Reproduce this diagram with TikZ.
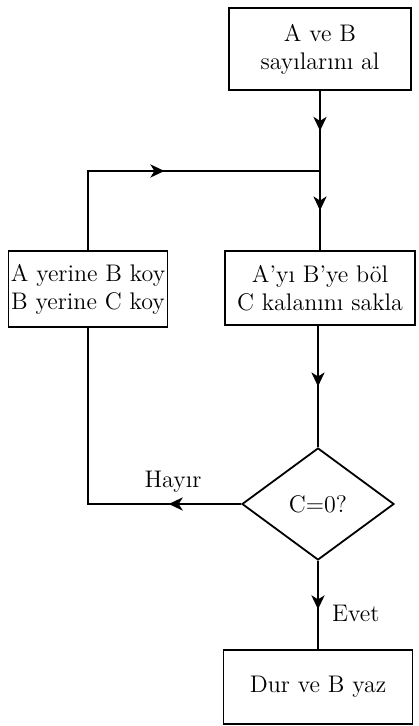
\documentclass[tikz,border=0pt]{standalone}
\usepackage{tikz}
\usetikzlibrary{arrows.meta,shapes.geometric,positioning,decorations.markings}

\begin{document}
\begin{tikzpicture}[x=0.5pt,y=-0.5pt]

\tikzset{kutu/.style={draw, line width=0.9pt, align=center, font=\large, inner sep=0pt}}
\tikzset{ok/.style={line width=1.4pt, decoration={markings, mark=at position #1 with {\arrow{Stealth[length=7pt,width=6.5pt,inset=2pt]}}}, postaction={decorate}}, ok/.default=0.5}

\useasboundingbox (0,0) rectangle (418,726);

% kutular
\node[kutu, minimum width=91pt, minimum height=41pt] (al) at (320,49) {A ve B\\sayılarını al};
\node[kutu, minimum width=95pt, minimum height=37pt] (bol) at (320,288) {A'yı B'ye böl\\C kalanını sakla};
\node[kutu, minimum width=79.5pt, minimum height=38pt] (koy) at (88,289) {A yerine B koy\\B yerine C koy};
\node[draw, diamond, line width=0.9pt, font=\large, inner sep=0pt, minimum width=76pt, minimum height=56pt] (sor) at (318,504) {C=0?};
\node[kutu, minimum width=94.5pt, minimum height=37pt] (dur) at (318,687) {Dur ve B yaz};

\coordinate (j1) at (bol.north |- 0,171);

% baglantilar
\draw[ok] (al.south -| j1) -- (j1);
\draw[ok] (j1) -- (bol.north -| j1);
\draw[ok] (koy.north) |- (j1);
\draw[ok] (bol.south -| sor.north) -- (sor.north);
\draw[ok=0.22] (sor.west) -| (koy.south);
\draw[ok=0.55] (sor.south) -- (dur.north -| sor.south);

\draw (173,482) node[font=\large] (hayir) {Hayır};
\draw (325,613) node[font=\large, anchor=west] (evet) {Evet};

\end{tikzpicture}
\end{document}
